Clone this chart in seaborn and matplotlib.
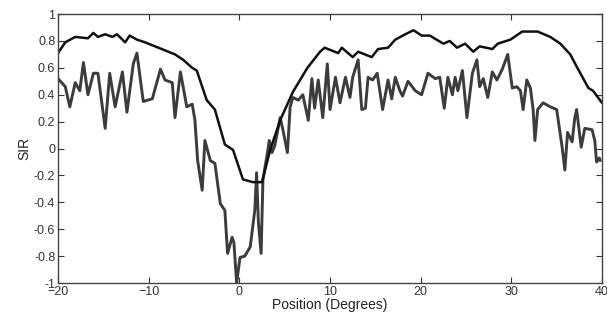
import numpy as np
import pandas as pd
import seaborn as sns
import matplotlib.pyplot as plt

# smooth (black) curve
smooth_x = [-20, -19.2, -18.1, -16.7, -16.1, -15.6, -14.8, -14.0, -13.5, -12.6, -12.1,
            -11.3, -10.4, -9.3, -8.2, -7.1, -6.2, -5.2, -4.7, -3.6, -2.7, -1.6, -0.7,
            0.4, 1.5, 2.5, 3.4, 4.5, 5.9, 7.5, 8.9, 9.4, 10.9, 11.3, 12.5, 13.1, 14.6,
            15.3, 16.4, 17.2, 18.3, 19.2, 20.1, 21.0, 22.5, 23.2, 24.0, 24.9, 25.8,
            26.5, 27.9, 28.5, 29.9, 31.2, 32.9, 34.3, 35.4, 36.5, 37.2, 38.5, 39.0, 40]
smooth_y = [0.71, 0.79, 0.83, 0.82, 0.86, 0.83, 0.85, 0.83, 0.85, 0.79, 0.84,
            0.81, 0.79, 0.76, 0.73, 0.70, 0.66, 0.60, 0.58, 0.36, 0.29, 0.03, -0.01,
            -0.23, -0.25, -0.25, -0.01, 0.21, 0.42, 0.60, 0.72, 0.75, 0.71, 0.75, 0.68, 0.72, 0.68,
            0.74, 0.75, 0.81, 0.85, 0.88, 0.84, 0.84, 0.78, 0.80, 0.75, 0.78, 0.72,
            0.76, 0.74, 0.78, 0.81, 0.87, 0.87, 0.83, 0.78, 0.70, 0.61, 0.45, 0.43, 0.34]

# noisy (grey) curve
noisy_x = [-20, -19.2, -18.7, -18.1, -17.6, -17.2, -16.7, -16.1, -15.6, -14.8, -14.3,
           -13.7, -12.9, -12.4, -11.7, -11.3, -10.6, -9.6, -8.7, -8.2, -7.4, -7.1, -6.5,
           -5.8, -5.2, -4.9, -4.6, -4.1, -3.8, -3.2, -2.7, -2.1, -1.6, -1.3, -0.8, -0.6,
           -0.3, 0.07, 0.6, 1.2, 1.7, 1.9, 2.1, 2.4, 2.6, 3.1, 3.3, 3.6, 3.9, 4.5, 4.8,
           5.3, 5.6, 5.9, 6.5, 7.0, 7.6, 8.0, 8.3, 8.7, 9.2, 9.7, 10.0, 10.6, 11.1, 11.7,
           12.2, 12.5, 13.1, 13.5, 13.9, 14.2, 14.7, 15.2, 15.8, 16.4, 16.8, 17.2, 17.7,
           18.0, 18.6, 19.4, 20.1, 20.8, 21.6, 22.1, 22.6, 23.0, 23.5, 23.8, 24.1, 24.6,
           25.1, 25.7, 26.2, 26.5, 26.9, 27.4, 27.9, 28.4, 29.0, 29.6, 30.1, 30.6, 31.0,
           31.3, 31.7, 32.1, 32.4, 32.6, 32.9, 33.5, 34.3, 35.0, 35.6, 35.9, 36.2, 36.7,
           37.0, 37.2, 37.7, 38.1, 38.9, 39.2, 39.4, 39.7, 39.8]
noisy_y = [0.52, 0.46, 0.31, 0.49, 0.43, 0.64, 0.40, 0.56, 0.56, 0.15, 0.56,
           0.31, 0.57, 0.27, 0.63, 0.71, 0.35, 0.37, 0.59, 0.51, 0.49, 0.23, 0.57,
           0.31, 0.33, 0.21, -0.09, -0.31, 0.06, -0.09, -0.11, -0.41, -0.46, -0.78, -0.66, -0.70,
           -1.0, -0.81, -0.80, -0.73, -0.46, -0.18, -0.55, -0.78, -0.23, -0.03, 0.06, -0.03, 0.02, 0.23, 0.14,
           -0.03, 0.31, 0.38, 0.36, 0.40, 0.21, 0.52, 0.30, 0.51, 0.23, 0.63, 0.29, 0.53, 0.34, 0.53,
           0.38, 0.53, 0.66, 0.29, 0.30, 0.53, 0.51, 0.56, 0.29, 0.51, 0.37, 0.53, 0.43,
           0.39, 0.50, 0.43, 0.40, 0.56, 0.52, 0.53, 0.30, 0.53, 0.40, 0.53, 0.43, 0.58,
           0.23, 0.56, 0.66, 0.46, 0.52, 0.38, 0.57, 0.51, 0.59, 0.70, 0.45, 0.46, 0.43,
           0.29, 0.51, 0.45, 0.29, 0.06, 0.29, 0.34, 0.31, 0.29, 0.01, -0.16, 0.12, 0.05,
           0.23, 0.29, 0.01, 0.15, 0.14, 0.06, -0.10, -0.07, -0.09]

smooth = pd.DataFrame({"x": smooth_x, "y": smooth_y})
noisy = pd.DataFrame({"x": noisy_x, "y": noisy_y})

sns.set_style("ticks", {"xtick.direction": "in", "ytick.direction": "in"})
plt.rcParams["font.family"] = ["Liberation Sans", "DejaVu Sans"]

fig = plt.figure(figsize=(6.07, 3.20), dpi=100)
ax = fig.add_axes([0.0956, 0.1156, 0.8962, 0.8404])

sns.lineplot(data=noisy, x="x", y="y", ax=ax, color="#3c3c3c", linewidth=2.1, sort=False)
sns.lineplot(data=smooth, x="x", y="y", ax=ax, color="#111111", linewidth=1.8, sort=False)

ax.set_xlim(-20, 40)
ax.set_ylim(-1, 1)
ax.set_xticks(np.arange(-20, 41, 10))
ax.set_yticks(np.round(np.arange(-1, 1.01, 0.2), 1))
ax.set_yticklabels(["-1", "-0.8", "-0.6", "-0.4", "-0.2", "0", "0.2", "0.4", "0.6", "0.8", "1"])
ax.tick_params(top=True, right=True, direction="in", length=4, width=0.8,
               labelsize=9, colors="#333333", pad=2)
for s in ax.spines.values():
    s.set_color("#444444")
    s.set_linewidth(1.0)

ax.set_xlabel("Position (Degrees)", fontsize=10, color="#222222", labelpad=0)
ax.set_ylabel("SIR", fontsize=10, color="#222222", labelpad=2)

fig.savefig("out.png", dpi=100)
